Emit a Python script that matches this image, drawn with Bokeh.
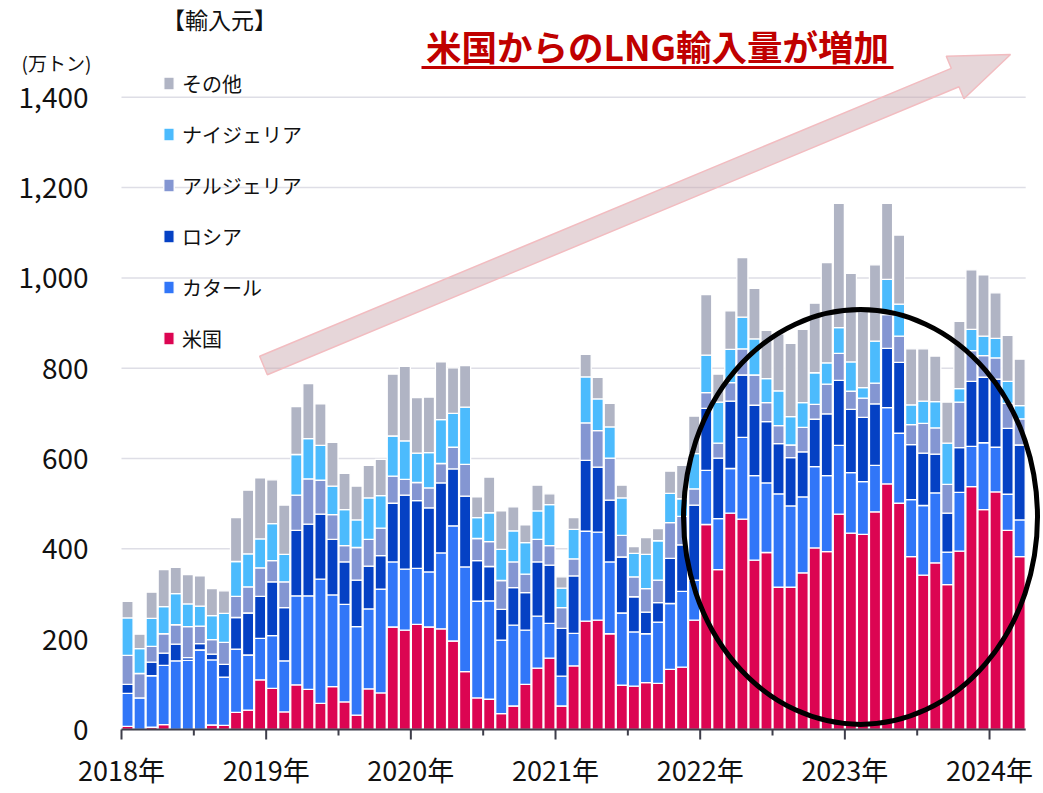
import math
from bokeh.plotting import figure
from bokeh.models import (Range1d, FixedTicker, Legend, LegendItem, Label,
                          ColumnDataSource)
from bokeh.core.properties import value
from bokeh.embed import file_html
from bokeh.resources import INLINE

# ---------------- data (万トン) ----------------
months = [f"{y}-{m:02d}" for y in range(2018, 2025) for m in range(1, 13)][:75]

us = [7, 0, 5, 11, 0, 0, 0, 10, 9, 38, 43, 110,
      91, 39, 99, 89, 58, 95, 61, 32, 90, 81, 227, 220,
      233, 227, 223, 196, 128, 70, 67, 35, 52, 100, 136, 158,
      52, 141, 240, 242, 212, 98, 96, 104, 102, 133, 138, 242,
      454, 354, 479, 466, 375, 392, 315, 315, 347, 402, 394, 477,
      435, 432, 482, 544, 501, 383, 342, 369, 321, 395, 538, 487,
      526, 441, 383]
qatar = [73, 70, 114, 131, 152, 153, 176, 144, 107, 140, 122, 92,
         117, 113, 197, 207, 275, 203, 216, 196, 177, 230, 144, 135,
         124, 122, 168, 255, 232, 214, 218, 163, 179, 120, 115, 77,
         66, 72, 199, 195, 159, 160, 120, 108, 136, 146, 168, 89,
         120, 113, 99, 181, 187, 154, 207, 180, 168, 180, 168, 152,
         134, 117, 103, 169, 155, 126, 154, 155, 72, 130, 89, 148,
         99, 80, 81]
russia = [20, 0, 30, 27, 37, 6, 14, 13, 28, 70, 93, 93,
          119, 118, 145, 159, 144, 123, 94, 103, 95, 74, 130, 164,
          150, 142, 155, 126, 157, 90, 76, 68, 83, 83, 120, 129,
          106, 127, 157, 144, 137, 124, 78, 48, 43, 100, 103, 166,
          137, 134, 149, 138, 156, 136, 111, 107, 100, 105, 137, 144,
          140, 142, 136, 131, 157, 122, 116, 86, 86, 99, 144, 145,
          151, 146, 166]
algeria = [64, 54, 35, 43, 43, 69, 39, 32, 49, 47, 58, 63,
           47, 57, 78, 100, 75, 55, 36, 72, 59, 61, 60, 35,
           40, 44, 43, 48, 70, 49, 55, 64, 57, 41, 50, 43,
           46, 38, 83, 81, 93, 48, 44, 52, 50, 79, 63, 36,
           35, 33, 41, 58, 67, 42, 40, 28, 54, 33, 66, 60,
           40, 43, 46, 75, 58, 44, 66, 58, 64, 101, 68, 48,
           47, 55, 58]
nigeria = [83, 55, 62, 60, 69, 50, 44, 53, 64, 77, 73, 64,
           82, 61, 90, 89, 77, 63, 80, 61, 92, 72, 89, 85,
           65, 78, 97, 75, 127, 46, 64, 69, 69, 70, 63, 91,
           43, 65, 102, 70, 69, 83, 52, 76, 87, 65, 39, 78,
           83, 91, 74, 70, 80, 53, 77, 63, 55, 70, 47, 57,
           65, 23, 93, 78, 71, 44, 49, 58, 91, 30, 47, 43,
           43, 49, 29]
other = [37, 32, 58, 82, 58, 65, 67, 60, 50, 97, 141, 135,
         97, 109, 106, 122, 92, 97, 80, 75, 72, 80, 137, 165,
         123, 123, 128, 101, 92, 46, 79, 85, 53, 39, 57, 24,
         25, 26, 50, 48, 52, 28, 15, 37, 27, 49, 74, 83,
         134, 62, 85, 132, 112, 107, 126, 162, 162, 154, 222, 275,
         196, 171, 169, 168, 153, 124, 116, 101, 91, 149, 132, 136,
         101, 102, 103]

series = ["米国", "カタール", "ロシア", "アルジェリア", "ナイジェリア", "その他"]
colors = ["#DC0552", "#3176F8", "#0541C4", "#8496D2", "#4CBBFD", "#B0B4C4"]
year_labels = ["2018年", "2019年", "2020年", "2021年", "2022年", "2023年", "2024年"]
y_ticks = [0, 200, 400, 600, 800, 1000, 1200, 1400]
y_tick_labels = [f"{v:,}" for v in y_ticks]

# ---------------- layout ----------------
W, H = 1043, 793
ZERO_PY = 729                     # canvas y of value 0
FRAME_BOTTOM = 742                # canvas y of frame bottom
BOTTOM = H - FRAME_BOTTOM
n = len(months)
PX_X = 12.056                     # px per month
PX_Y = (ZERO_PY - 96.8) / 1400    # px per unit
X0 = -121 / PX_X                  # data x at left edge of canvas
X1 = X0 + W / PX_X

JP = "Noto Sans CJK JP"
AXIS_C = "#3E3E4A"

p = figure(width=W, height=H, output_backend="svg", toolbar_location=None,
           x_range=Range1d(X0, X1),
           y_range=Range1d(-(FRAME_BOTTOM - ZERO_PY) / PX_Y, ZERO_PY / PX_Y),
           y_axis_location=None,
           min_border_left=0, min_border_right=0, min_border_top=0,
           min_border_bottom=BOTTOM)
p.outline_line_color = None
p.background_fill_color = "white"
p.border_fill_color = "white"
for g in p.grid:
    g.visible = False


def to_x(px):
    return X0 + px / PX_X


def to_y(py):
    return (ZERO_PY - py) / PX_Y


# horizontal grid lines
p.segment(x0=[0] * len(y_ticks), x1=[n] * len(y_ticks), y0=y_ticks, y1=y_ticks,
          line_color="#DEDEE6", line_width=1.5)

# arrow (behind bars)
tx, ty = 263, 365
hx, hy = 1010, 54
L = math.hypot(hx - tx, hy - ty)
dx, dy = (hx - tx) / L, (hy - ty) / L
nx, ny = -dy, dx
sh, hh, hl = 10, 23, 60
neck = (hx - hl * dx, hy - hl * dy)
pts = [(tx - sh * nx, ty - sh * ny), (neck[0] - sh * nx, neck[1] - sh * ny),
       (neck[0] - hh * nx, neck[1] - hh * ny), (hx, hy),
       (neck[0] + hh * nx, neck[1] + hh * ny), (neck[0] + sh * nx, neck[1] + sh * ny),
       (tx + sh * nx, ty + sh * ny)]
p.patch([to_x(a) for a, b in pts], [to_y(b) for a, b in pts],
        fill_color="#C8A4AA", fill_alpha=0.45, line_color="#F2BCC0", line_width=1.5)

# bars
data = {"x": [i + 0.5 for i in range(n)], "month": months}
for name, vals in zip(series, [us, qatar, russia, algeria, nigeria, other]):
    data[name] = vals
source = ColumnDataSource(data)
renderers = p.vbar_stack(series, x="x", width=0.92, source=source,
                         fill_color=colors, line_color="white", line_width=1.3)

# y tick labels
p.text(x=[to_x(88)] * len(y_ticks), y=y_ticks, text=y_tick_labels,
       text_font=value(JP), text_font_size="28px", text_align="right",
       text_baseline="middle", text_color="#111111")

# x axis line and ticks at value 0
major_ticks = list(range(0, n, 12))
minor_ticks = list(range(6, n, 12))
p.segment(x0=[0], x1=[n], y0=[0], y1=[0], line_color=AXIS_C, line_width=2)
p.segment(x0=major_ticks, x1=major_ticks, y0=[0] * len(major_ticks),
          y1=[-10 / PX_Y] * len(major_ticks), line_color=AXIS_C, line_width=2)
p.segment(x0=minor_ticks, x1=minor_ticks, y0=[0] * len(minor_ticks),
          y1=[-6 / PX_Y] * len(minor_ticks), line_color=AXIS_C, line_width=2)

# ellipse highlight
p.ellipse(x=[to_x(860)], y=[to_y(516.5)], width=[354 / PX_X], height=[415 / PX_Y],
          fill_color=None, line_color="black", line_width=5)

# x axis labels (Bokeh axis, line/ticks drawn above at value 0)
xa = p.xaxis[0]
xa.ticker = FixedTicker(ticks=major_ticks, minor_ticks=[])
xa.major_label_overrides = {12 * i: lab for i, lab in enumerate(year_labels)}
xa.axis_line_color = None
xa.major_tick_line_color = None
xa.minor_tick_line_color = None
xa.major_tick_out = 0
xa.major_tick_in = 0
xa.minor_tick_out = 0
xa.minor_tick_in = 0
xa.major_label_standoff = 7
xa.major_label_text_font = JP
xa.major_label_text_font_size = "27px"
xa.major_label_text_color = "#111111"

# legend (reverse order: その他 on top)
items = [LegendItem(label=s, renderers=[r]) for s, r in zip(series, renderers)][::-1]
legend = Legend(items=items, title="【輸入元】",
                location=(162, 375 + (FRAME_BOTTOM - ZERO_PY)),
                padding=0, margin=0, spacing=19, label_height=32,
                glyph_width=13, glyph_height=16, label_standoff=7,
                title_standoff=31, background_fill_alpha=0,
                border_line_color=None,
                label_text_font=JP, label_text_font_size="20px",
                label_text_color="#111111",
                title_text_font=JP, title_text_font_size="23px",
                title_text_font_style="normal", title_text_color="#111111")
p.add_layout(legend)

# unit label
p.add_layout(Label(x=to_x(56), y=to_y(62), text="(万トン)", text_font=JP,
                   text_font_size="19px", text_align="center",
                   text_baseline="middle", text_color="#111111"))

# title with underline
p.add_layout(Label(x=to_x(657), y=to_y(45), text="米国からのLNG輸入量が増加",
                   text_font=JP, text_font_size="35.5px", text_font_style="bold",
                   text_align="center", text_baseline="middle",
                   text_color="#C00000"))
p.segment(x0=[to_x(421)], y0=[to_y(67)], x1=[to_x(893)], y1=[to_y(67)],
          line_color="#C00000", line_width=3)

open("out.html", "w").write(file_html(p, INLINE))
